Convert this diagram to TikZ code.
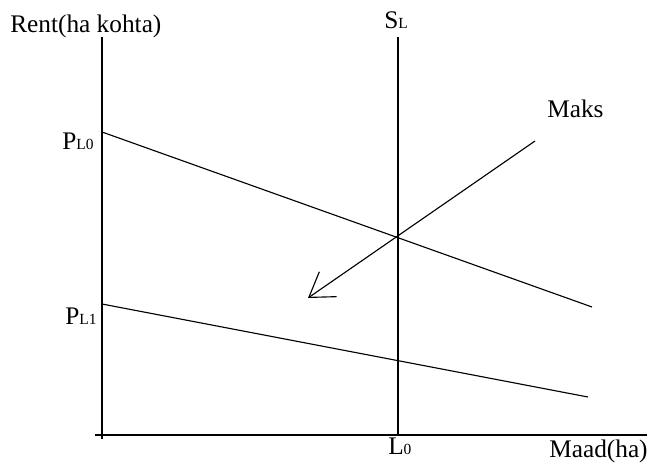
\documentclass[tikz,border=0pt]{standalone}
\usepackage{fontspec}
\setmainfont{Liberation Serif}
\usetikzlibrary{arrows.meta}
\newcommand{\lowsub}[1]{\raisebox{-0.6pt}{\fontsize{11}{11}\selectfont #1}}

\begin{document}
\begin{tikzpicture}[
    x=0.025cm, y=-0.025cm,
    axis/.style={line width=1.1pt},
    curve/.style={line width=0.8pt},
    lbl/.style={anchor=base west, inner sep=0pt, font=\fontsize{18}{20}\selectfont},
    shiftarrow/.style={-{Straight Barb[length=16.5pt, width=21.5pt]}, line width=0.8pt}
]
\useasboundingbox (0,0) rectangle (651,463);

% axes
\coordinate (ytop) at (102,37);
\coordinate (ybot) at (102,439);
\coordinate (xleft) at (95,435);
\coordinate (xright) at (647,435);
\draw[axis] (ybot) -- (ytop);
\draw[axis] (xleft) -- (xright);

% supply of land
\coordinate (sltop) at (398,37);
\coordinate (slbot) at (398,435);
\draw[axis] (slbot) -- (sltop);

% demand curves
\coordinate (d0a) at (102,132);
\coordinate (d0b) at (592,307);
\coordinate (d1a) at (102,304);
\coordinate (d1b) at (588,397);
\draw[curve] (d0a) -- (d0b);
\draw[curve] (d1a) -- (d1b);

% tax shift
\coordinate (maksa) at (535,141);
\coordinate (maksb) at (308,298);
\draw[shiftarrow] (maksa) -- (maksb);

% labels
\node[lbl] (rent) at (10,32) {Rent(ha kohta)};
\node[lbl] (sl) at (384,28) {S\lowsub{L}};
\node[lbl] (maks) at (547,117) {Maks};
\node[lbl] (pl0) at (62,149) {P\lowsub{L0}};
\node[lbl] (pl1) at (65,324) {P\lowsub{L1}};
\node[lbl] (l0) at (388,454) {L\lowsub{0}};
\node[lbl] (maad) at (549,457) {Maad(ha)};
\end{tikzpicture}
\end{document}
